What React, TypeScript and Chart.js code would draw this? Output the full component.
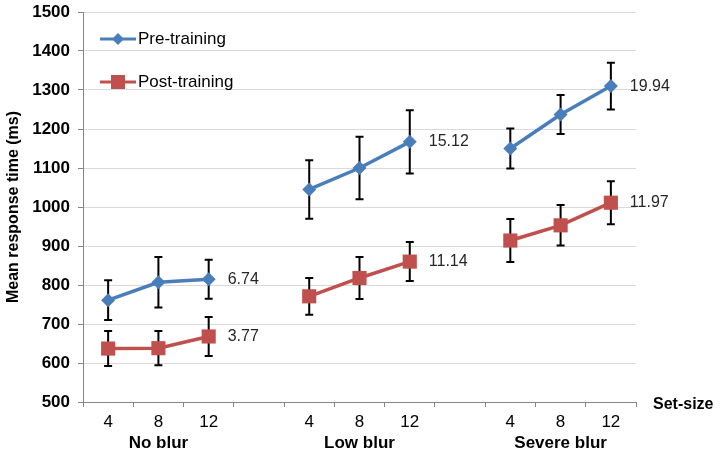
import React, { useEffect, useRef } from 'react';
import { Chart, registerables } from 'chart.js';

Chart.register(...registerables);

const categories = ['4', '8', '12', '', '4', '8', '12', '', '4', '8', '12'];
const groupNames = ['No blur', 'Low blur', 'Severe blur'];
const groupCenterIndex = [1, 5, 9];
const preTraining = [761, 807, 815, null, 1045, 1100, 1167, null, 1150, 1237, 1310];
const preError = [51, 65, 50, null, 75, 80, 81, null, 51, 50, 60];
const postTraining = [637, 638, 668, null, 771, 818, 860, null, 914, 953, 1011];
const postError = [45, 44, 50, null, 47, 54, 50, null, 55, 52, 55];
const annotationIndex = [2, 6, 10];
const preAnnotations = ['6.74', '15.12', '19.94'];
const postAnnotations = ['3.77', '11.14', '11.97'];
const yMin = 500;
const yMax = 1500;
const yStep = 100;

const BLUE = '#4a7ebb';
const RED = '#c0504d';
const FONT = 'Arial, "Liberation Sans", sans-serif';

const overlay = {
  id: 'overlay',
  beforeDatasetsDraw(chart: any) {
    const ctx = chart.ctx;
    const xs = chart.scales.x;
    const ys = chart.scales.y;
    const sets = [
      { v: preTraining, e: preError },
      { v: postTraining, e: postError },
    ];
    ctx.save();
    ctx.strokeStyle = '#000';
    ctx.lineWidth = 2;
    sets.forEach((s) => {
      s.v.forEach((val, i) => {
        const err = s.e[i];
        if (val == null || err == null) return;
        const x = xs.getPixelForValue(i);
        const yt = ys.getPixelForValue(val + err);
        const yb = ys.getPixelForValue(val - err);
        ctx.beginPath();
        ctx.moveTo(x, yt);
        ctx.lineTo(x, yb);
        ctx.moveTo(x - 4, yt);
        ctx.lineTo(x + 4, yt);
        ctx.moveTo(x - 4, yb);
        ctx.lineTo(x + 4, yb);
        ctx.stroke();
      });
    });
    ctx.restore();
  },
  afterDatasetsDraw(chart: any) {
    const ctx = chart.ctx;
    const xs = chart.scales.x;
    const ys = chart.scales.y;
    ctx.save();
    // annotations
    ctx.font = `16px ${FONT}`;
    ctx.fillStyle = '#262626';
    ctx.textAlign = 'left';
    ctx.textBaseline = 'middle';
    annotationIndex.forEach((idx, k) => {
      const x = xs.getPixelForValue(idx) + 19;
      ctx.fillText(preAnnotations[k], x, ys.getPixelForValue(preTraining[idx] as number));
      ctx.fillText(postAnnotations[k], x, ys.getPixelForValue(postTraining[idx] as number));
    });
    // legend
    const drawLegend = (y: number, color: string, label: string, square: boolean) => {
      ctx.strokeStyle = color;
      ctx.lineWidth = 3;
      ctx.beginPath();
      ctx.moveTo(100, y);
      ctx.lineTo(136, y);
      ctx.stroke();
      ctx.fillStyle = color;
      ctx.beginPath();
      if (square) {
        ctx.rect(118 - 7, y - 7, 14, 14);
      } else {
        ctx.moveTo(118, y - 6);
        ctx.lineTo(124, y);
        ctx.lineTo(118, y + 6);
        ctx.lineTo(112, y);
        ctx.closePath();
      }
      ctx.fill();
      ctx.fillStyle = '#000';
      ctx.font = `17px ${FONT}`;
      ctx.textAlign = 'left';
      ctx.textBaseline = 'middle';
      ctx.fillText(label, 138, y);
    };
    drawLegend(39, BLUE, 'Pre-training', false);
    drawLegend(82, RED, 'Post-training', true);
    // group labels
    ctx.fillStyle = '#000';
    ctx.font = `bold 17px ${FONT}`;
    ctx.textAlign = 'center';
    ctx.textBaseline = 'middle';
    groupCenterIndex.forEach((idx, k) => {
      ctx.fillText(groupNames[k], xs.getPixelForValue(idx), 443);
    });
    ctx.textAlign = 'left';
    ctx.font = `bold 16px ${FONT}`;
    ctx.fillText('Set-size', xs.right + 17, ys.bottom + 3);
    ctx.restore();
  },
};

export default function App() {
  const ref = useRef<HTMLCanvasElement>(null);
  useEffect(() => {
    if (!ref.current) return;
    const chart = new Chart(ref.current, {
      type: 'line',
      data: {
        labels: categories,
        datasets: [
          {
            label: 'Pre-training',
            data: preTraining,
            borderColor: BLUE,
            backgroundColor: BLUE,
            borderWidth: 3.5,
            pointStyle: 'rectRot',
            pointRadius: 7,
            pointBorderWidth: 0,
            pointBackgroundColor: BLUE,
            spanGaps: false,
          },
          {
            label: 'Post-training',
            data: postTraining,
            borderColor: RED,
            backgroundColor: RED,
            borderWidth: 3.5,
            pointStyle: 'rect',
            pointRadius: 10,
            pointBorderWidth: 0,
            pointBackgroundColor: RED,
            spanGaps: false,
          },
        ],
      },
      options: {
        animation: false,
        responsive: true,
        maintainAspectRatio: false,
        layout: { padding: { top: 12, right: 86, left: 0, bottom: 0 } },
        plugins: {
          legend: { display: false },
          tooltip: { enabled: false },
        },
        scales: {
          x: {
            offset: true,
            grid: {
              display: true,
              offset: true,
              drawOnChartArea: false,
              drawTicks: true,
              tickLength: 5,
              tickColor: '#868686',
              color: '#868686',
            },
            border: { display: true, color: '#868686', width: 1 },
            ticks: {
              color: '#000',
              font: { family: FONT, size: 17 },
              padding: 5,
              autoSkip: false,
              maxRotation: 0,
            },
            afterFit: (s: any) => {
              s.height = 51;
            },
          },
          y: {
            min: yMin,
            max: yMax,
            grid: {
              color: '#d9d9d9',
              lineWidth: 1,
              tickLength: 5,
              tickColor: '#868686',
            },
            border: { display: true, color: '#868686', width: 1 },
            ticks: {
              stepSize: yStep,
              color: '#000',
              font: { family: FONT, size: 17, weight: 'bold' },
              padding: 8,
              callback: (v: any) => String(v),
            },
            title: {
              display: true,
              text: 'Mean response time (ms)',
              color: '#000',
              font: { family: FONT, size: 16, weight: 'bold' },
              padding: { top: 4, bottom: 0 },
            },
            afterFit: (s: any) => {
              s.width = 83;
              s.paddingTop = 0;
              s.paddingBottom = 0;
            },
          },
        },
      },
      plugins: [overlay],
    });
    return () => chart.destroy();
  }, []);
  return (
    <div style={{ position: 'absolute', left: 0, top: 0, width: 722, height: 453, background: '#fff' }}>
      <canvas ref={ref} />
    </div>
  );
}
